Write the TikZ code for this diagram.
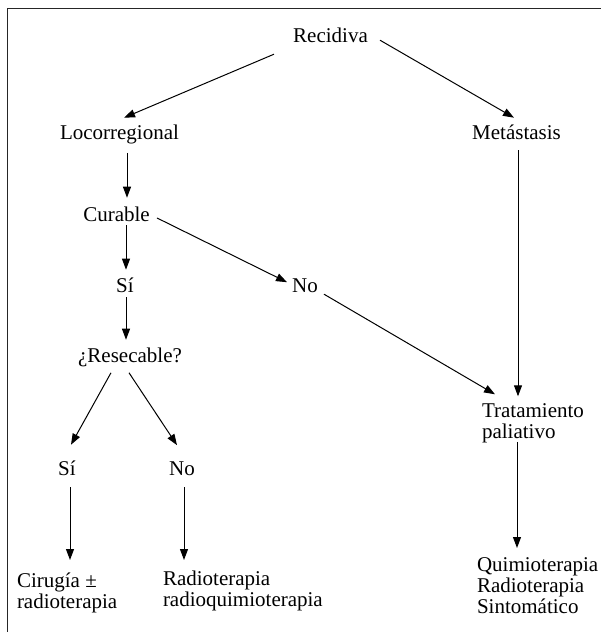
\documentclass[tikz,border=0pt]{standalone}
\usepackage{fontspec}
\setmainfont{Liberation Serif}
\usetikzlibrary{arrows.meta,calc}
\tikzset{
  lbl/.style={inner sep=0pt, outer sep=0pt, font=\fontsize{21}{21}\selectfont, anchor=base},
  lbllist/.style={inner sep=0pt, outer sep=0pt, font=\fontsize{21}{21}\selectfont, align=left, anchor=north west},
  arr/.style={line width=1pt, -{Triangle[length=11pt,width=8pt]}},
  frame/.style={line width=1.4pt, draw=black!85}
}
\begin{document}
\begin{tikzpicture}[x=1pt,y=-1pt]
\useasboundingbox (0,0) rectangle (601,632);
\draw[frame] (7.5,632) -- (7.5,8.5) -- (601,8.5);
% nodes
\node[lbl] (rec) at (330.5,42) {Recidiva};
\node[lbl] (loc) at (119.5,139) {Locorregional};
\node[lbl] (met) at (516.5,139) {Metástasis};
\node[lbl] (cur) at (116.5,221) {Curable};
\node[lbl] (si1) at (125,292) {Sí};
\node[lbl] (no1) at (305,292) {No};
\node[lbl] (res) at (130,362) {¿Resecable?};
\node[lbllist] (trat) at (482,404) {Tratamiento\\paliativo};
\node[lbl] (si2) at (67,475) {Sí};
\node[lbl] (no2) at (182,475) {No};
\node[lbllist] (cir) at (17,572.7) {Cirugía ±\\radioterapia};
\node[lbllist] (rad) at (163,570.7) {Radioterapia\\radioquimioterapia};
\node[lbllist] (qui) at (477,557.7) {Quimioterapia\\Radioterapia\\Sintomático};
% connectors
\draw[arr] ($(rec.south west)+(-19.2,12)$) -- ($(loc.north)+(4.5,-6.7)$);
\draw[arr] ($(rec.south east)+(12.2,-2)$) -- ($(met.north)+(-2.5,-6.7)$);
\draw[arr] ($(loc.south)+(7.5,9.4)$) -- ($(cur.north)+(10.5,-8.7)$);
\draw[arr] ($(met.south)+(1.5,11)$) -- ($(trat.north west)+(36,-7.7)$);
\draw[arr] ($(cur.south)+(9.5,4)$) -- ($(si1.north)+(1,-7.7)$);
\draw[arr] ($(cur.east)+(7.25,4.15)$) -- ($(no1.west)+(-5.15,-3)$);
\draw[arr] ($(si1.south)+(1,5)$) -- ($(res.north)+(-4,-7.7)$);
\draw[arr] ($(no1.east)+(6.15,8.95)$) -- ($(trat.north west)+(13,-9.7)$);
\draw[arr] ($(res.south)+(-19,6.4)$) -- ($(si2.north)+(4,-15.7)$);
\draw[arr] ($(res.south)+(-1,6.4)$) -- ($(no2.north)+(-5,-16.1)$);
\draw[arr] ($(trat.south west)+(35,-1.6)$) -- ($(qui.north west)+(40,-9.7)$);
\draw[arr] ($(si2.south)+(3,12)$) -- ($(cir.north west)+(53,-12.7)$);
\draw[arr] ($(no2.south)+(2,12)$) -- ($(rad.north west)+(21,-10.7)$);
\end{tikzpicture}
\end{document}
